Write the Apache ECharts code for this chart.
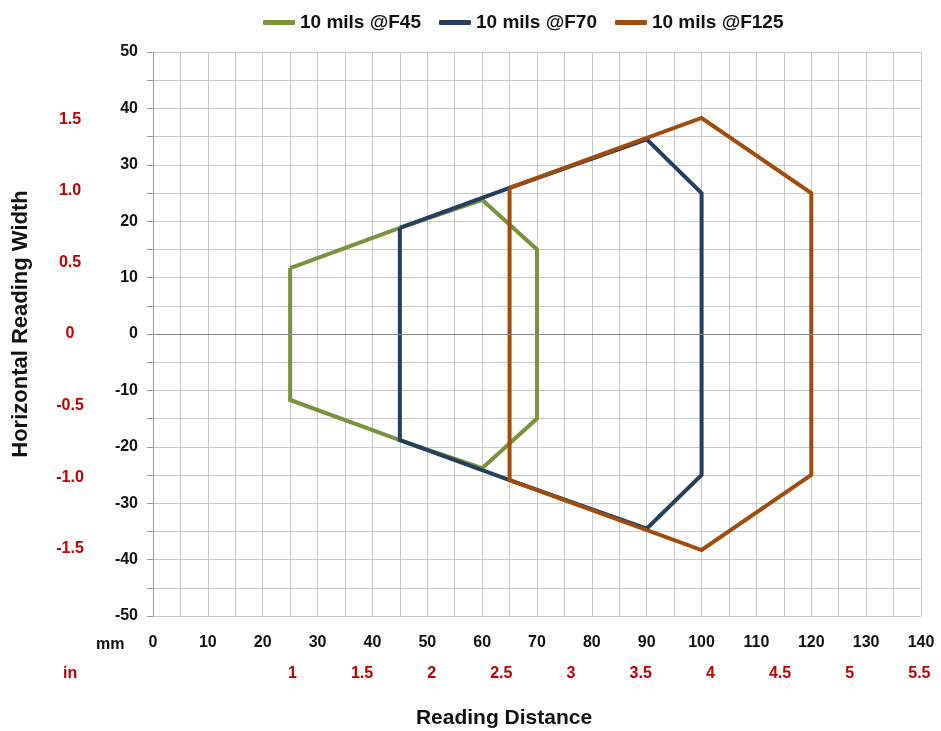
<!DOCTYPE html>
<html>
<head>
<meta charset="utf-8">
<script src="https://cdn.jsdelivr.net/npm/echarts@6/dist/echarts.min.js"></script>
<style>html,body{margin:0;padding:0;background:#fff}#c{width:941px;height:731px}</style>
</head>
<body>
<div id="c"></div>
<script>
// Series names
const seriesNames = ['10 mils @F45', '10 mils @F70', '10 mils @F125'];
// F45 outline (mm)
const f45X = [25, 45, 60, 70, 70, 60, 45, 25, 25];
const f45Y = [11.7, 18.8, 23.8, 15, -15, -23.8, -18.8, -11.7, 11.7];
// F70 outline (mm)
const f70X = [45, 65, 90, 100, 100, 90, 65, 45, 45];
const f70Y = [18.8, 25.9, 34.5, 25, -25, -34.5, -25.9, -18.8, 18.8];
// F125 outline (mm)
const f125X = [65, 100, 120, 120, 100, 65, 65];
const f125Y = [25.9, 38.3, 25, -25, -38.3, -25.9, 25.9];
// Inch tick values and labels
const inchPerMm = 25.4;
const xInchVals = [1, 1.5, 2, 2.5, 3, 3.5, 4, 4.5, 5, 5.5];
const xInchLabels = ['1', '1.5', '2', '2.5', '3', '3.5', '4', '4.5', '5', '5.5'];
const yInchVals = [-1.5, -1, -0.5, 0, 0.5, 1, 1.5];
const yInchLabels = ['-1.5', '-1.0', '-0.5', '0', '0.5', '1.0', '1.5'];

const colors = ['#77933c', '#243f60', '#9e4d0e'];
const red = '#c00000';
const font = '"Liberation Sans", Arial, sans-serif';
const gridColor = '#c9c9c9';

function pairs(xs, ys) { return xs.map((x, i) => [x, ys[i]]); }
function labelFor(vals, labels, mm) {
  for (let i = 0; i < vals.length; i++) {
    if (Math.abs(vals[i] * inchPerMm - mm) < 0.01) return labels[i];
  }
  return '';
}

const chart = echarts.init(document.getElementById('c'), null, {renderer: 'canvas'});
const lineSeries = (name, xs, ys, color, extra) => Object.assign({
  name: name, type: 'line', data: pairs(xs, ys), showSymbol: false, symbol: 'none',
  lineStyle: {color: color, width: 4, join: 'miter'}, itemStyle: {color: color},
  animation: false, silent: true, xAxisIndex: 0, yAxisIndex: 0
}, extra || {});

chart.setOption({
  animation: false,
  grid: {left: 153, right: 20, top: 52, bottom: 115, containLabel: false, outerBoundsMode: 'none'},
  legend: {
    top: 8, left: 258, itemWidth: 32, itemHeight: 5, itemGap: 18, icon: 'roundRect',
    data: seriesNames,
    textStyle: {fontFamily: font, fontWeight: 'bold', fontSize: 19, color: '#111'}
  },
  xAxis: [
    {
      type: 'value', min: 0, max: 140, interval: 5, position: 'bottom',
      axisLine: {show: false, onZero: false}, axisTick: {show: false},
      axisLabel: {
        margin: 19, fontFamily: font, fontWeight: 'bold', fontSize: 16, color: '#111',
        formatter: v => (v % 10 === 0 ? String(v) : '')
      },
      splitLine: {show: true, lineStyle: {color: gridColor, width: 1}},
      name: 'Reading Distance', nameLocation: 'middle', nameGap: 92, nameMoveOverlap: false,
      nameTextStyle: {fontFamily: font, fontWeight: 'bold', fontSize: 21, color: '#111', padding: [0, 66, 0, 0]}
    },
    {
      type: 'value', min: 0, max: 140, position: 'bottom',
      axisLine: {show: false, onZero: false}, axisTick: {show: false}, splitLine: {show: false},
      axisLabel: {
        margin: 50, fontFamily: font, fontWeight: 'bold', fontSize: 16, color: red,
        customValues: xInchVals.map(v => v * inchPerMm),
        formatter: v => labelFor(xInchVals, xInchLabels, v)
      }
    }
  ],
  yAxis: [
    {
      type: 'value', min: -50, max: 50, interval: 5, position: 'left',
      axisLine: {show: true, onZero: false, lineStyle: {color: '#9a9a9a', width: 1}},
      axisTick: {show: true, length: 6, lineStyle: {color: '#9a9a9a'}},
      axisLabel: {
        margin: 15, fontFamily: font, fontWeight: 'bold', fontSize: 16, color: '#111',
        formatter: v => (v % 10 === 0 ? String(v) : '')
      },
      splitLine: {show: true, lineStyle: {color: gridColor, width: 1}},
      name: 'Horizontal Reading Width', nameLocation: 'middle', nameRotate: 90, nameGap: 121,
      nameMoveOverlap: false,
      nameTextStyle: {fontFamily: font, fontWeight: 'bold', fontSize: 22, color: '#111', padding: [0, 0, 0, 20]}
    },
    {
      type: 'value', min: -50, max: 50, position: 'left',
      axisLine: {show: false, onZero: false}, axisTick: {show: false}, splitLine: {show: false},
      axisLabel: {
        margin: 83, align: 'center', fontFamily: font, fontWeight: 'bold', fontSize: 16, color: red,
        customValues: yInchVals.map(v => v * inchPerMm),
        formatter: v => labelFor(yInchVals, yInchLabels, v)
      }
    }
  ],
  graphic: [
    {type: 'text', left: 96, top: 637, style: {text: 'mm', fontFamily: font, fontWeight: 'bold', fontSize: 16, fill: '#111'}},
    {type: 'text', left: 63, top: 666, style: {text: 'in', fontFamily: font, fontWeight: 'bold', fontSize: 16, fill: red}}
  ],
  series: [
    lineSeries(seriesNames[0], f45X, f45Y, colors[0], {
      markLine: {
        silent: true, symbol: 'none', label: {show: false}, animation: false,
        lineStyle: {color: '#8a8a8a', width: 1, type: 'solid'},
        data: [{yAxis: 0}]
      }
    }),
    lineSeries(seriesNames[1], f70X, f70Y, colors[1]),
    lineSeries(seriesNames[2], f125X, f125Y, colors[2])
  ]
});
</script>
</body>
</html>
